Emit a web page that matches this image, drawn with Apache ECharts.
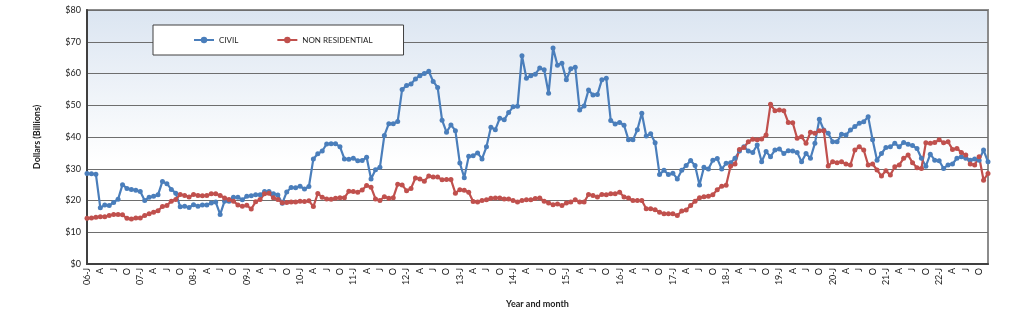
<!DOCTYPE html>
<html>
<head>
<meta charset="utf-8">
<script src="https://cdn.jsdelivr.net/npm/echarts@6/dist/echarts.min.js"></script>
<style>
html,body{margin:0;padding:0;background:#fff;}
#chart{width:1024px;height:310px;}
</style>
</head>
<body>
<div id="chart"></div>
<script>
// Years and month letters used to build category labels (Jan 2006 - Dec 2022)
const years = ['06','07','08','09','10','11','12','13','14','15','16','17','18','19','20','21','22'];
const monthLetters = ['J','F','M','A','M','J','J','A','S','O','N','D'];
const yTicks = [0,10,20,30,40,50,60,70,80];

const civil = [
28.5,28.4,28.3,17.7,18.6,18.4,19.4,20.4,25.0,23.8,23.5,23.2,
22.8,20.0,21.0,21.3,21.8,26.0,25.3,23.5,22.3,18.0,18.2,17.8,
18.7,18.2,18.6,18.6,19.2,19.5,15.6,19.8,19.8,21.0,21.0,20.2,
21.3,21.5,21.8,21.8,22.8,22.8,22.1,21.7,19.1,22.7,24.1,24.0,
24.5,23.6,24.4,33.1,34.7,35.6,37.8,37.9,37.9,36.9,33.1,33.0,
33.3,32.5,32.6,33.6,26.8,29.7,30.5,40.5,44.2,44.2,44.9,55.0,
56.2,56.7,58.3,59.3,60.0,60.7,57.5,55.6,45.3,41.5,43.8,42.0,
31.8,27.2,33.9,34.1,35.0,33.1,36.9,43.1,42.3,45.9,45.4,47.7,
49.5,49.7,65.6,58.5,59.3,59.8,61.7,61.2,53.8,68.0,62.6,63.2,
58.0,61.5,62.0,48.5,49.8,54.8,53.2,53.4,58.0,58.5,45.2,44.1,
44.6,43.7,39.1,39.1,42.3,47.5,40.3,41.0,38.2,28.2,29.5,28.2,
28.6,26.8,29.5,31.0,32.6,31.0,24.9,30.5,29.9,32.7,33.2,29.9,
31.7,31.9,33.3,35.6,36.9,35.6,35.1,37.5,32.2,35.4,33.8,35.9,
36.2,34.8,35.7,35.6,35.1,32.2,34.8,33.3,38.0,45.6,42.2,41.2,
38.5,38.5,40.9,40.6,42.2,43.3,44.3,44.8,46.4,39.1,32.7,34.8,
36.7,36.9,38.0,36.9,38.3,37.7,37.3,36.4,33.3,30.8,34.6,32.7,
32.5,30.1,31.2,31.5,33.3,33.8,33.3,32.7,33.1,32.7,35.9,32.2
];

const nonResidential = [
14.4,14.5,14.7,14.9,14.9,15.3,15.6,15.6,15.5,14.4,14.2,14.5,
14.5,15.3,15.8,16.3,16.8,18.1,18.4,19.8,20.3,21.9,21.6,21.1,
21.9,21.6,21.5,21.6,22.1,22.1,21.6,20.8,20.3,19.8,18.6,18.2,
18.5,17.3,19.6,20.3,22.1,22.3,20.9,20.3,19.3,19.4,19.5,19.5,
19.8,19.7,19.9,18.1,22.2,21.0,20.5,20.4,20.7,20.9,20.9,22.9,
22.8,22.6,23.3,24.7,24.2,20.5,20.0,21.2,20.7,20.9,25.1,24.9,
23.1,23.8,27.1,26.8,26.1,27.7,27.4,27.4,26.5,26.6,26.6,22.3,
23.4,23.2,22.6,19.7,19.5,20.0,20.2,20.7,20.8,20.8,20.5,20.5,
20.0,19.5,20.0,20.2,20.2,20.6,20.8,19.8,19.2,18.7,18.9,18.4,
19.2,19.5,20.2,19.5,19.5,21.9,21.6,21.1,21.9,21.8,22.1,22.1,
22.6,21.1,20.8,20.0,20.0,20.0,17.4,17.4,17.1,16.3,15.8,15.8,
15.8,15.3,16.7,17.0,18.4,19.8,20.9,21.2,21.3,21.8,23.4,24.5,
24.8,30.8,31.5,36.1,36.7,38.5,39.3,39.1,39.4,40.6,50.3,48.3,
48.5,48.3,44.6,44.5,39.6,40.1,38.0,41.5,41.2,42.0,42.0,30.9,
32.2,31.9,32.2,31.5,31.2,35.9,36.9,35.9,31.2,31.5,29.6,27.7,
29.4,28.0,30.6,31.2,33.3,34.3,31.9,30.3,30.1,38.2,38.0,38.3,
39.1,38.2,38.5,36.1,36.4,35.1,34.3,31.5,31.2,33.8,26.4,28.5
];

const categories = [];
years.forEach(y => monthLetters.forEach((m, i) => {
  categories.push(i === 0 ? y + '-' + m : m);
}));

const chart = echarts.init(document.getElementById('chart'));
const FONT = 'Lato';
chart.setOption({
  animation: false,
  backgroundColor: '#ffffff',
  textStyle: { fontFamily: FONT },
  grid: {
    left: 87, right: 36, top: 10, bottom: 46,
    outerBoundsMode: 'none',
    containLabel: false,
    show: true,
    borderColor: '#8c8c8c',
    borderWidth: 2,
    backgroundColor: new echarts.graphic.LinearGradient(0, 0, 0, 1, [
      { offset: 0, color: '#dbe5f1' },
      { offset: 0.6, color: '#ffffff' },
      { offset: 1, color: '#ffffff' }
    ])
  },
  legend: {
    left: 153, top: 25,
    padding: [11, 31, 11, 40],
    itemGap: 38,
    itemWidth: 20, itemHeight: 8,
    backgroundColor: '#ffffff',
    borderColor: '#404040',
    borderWidth: 1,
    borderRadius: 0,
    textStyle: { fontFamily: FONT, fontSize: 8, color: '#222' },
    data: ['CIVIL', 'NON RESIDENTIAL']
  },
  xAxis: {
    type: 'category',
    data: categories,
    boundaryGap: false,
    name: 'Year and month',
    nameLocation: 'middle',
    nameGap: 36,
    nameTextStyle: { fontFamily: FONT, fontSize: 9, fontWeight: 'bold', color: '#222' },
    axisLine: { lineStyle: { color: '#404040', width: 2 } },
    axisTick: { show: false },
    axisLabel: {
      interval: 2,
      rotate: 90,
      fontSize: 9,
      color: '#222',
      fontFamily: FONT,
      margin: 4
    },
    splitLine: { show: false }
  },
  yAxis: {
    type: 'value',
    min: yTicks[0], max: yTicks[yTicks.length - 1], interval: 10,
    name: 'Dollars (Billions)',
    nameLocation: 'middle',
    nameGap: 45,
    nameTextStyle: { fontFamily: FONT, fontSize: 9, fontWeight: 'bold', color: '#222' },
    axisLine: { show: true, lineStyle: { color: '#404040', width: 2 } },
    axisTick: { show: false },
    axisLabel: {
      formatter: v => '$' + v,
      fontSize: 9, color: '#222', fontFamily: FONT, margin: 6
    },
    splitLine: { show: true, lineStyle: { color: '#6e6e6e', width: 1.2 } }
  },
  series: [
    {
      name: 'CIVIL', type: 'line', data: civil,
      symbol: 'circle', symbolSize: 5, showAllSymbol: true,
      lineStyle: { color: '#4a7ebb', width: 2.2 },
      itemStyle: { color: '#4a7ebb' }
    },
    {
      name: 'NON RESIDENTIAL', type: 'line', data: nonResidential,
      symbol: 'circle', symbolSize: 5, showAllSymbol: true,
      lineStyle: { color: '#c0504d', width: 2.2 },
      itemStyle: { color: '#c0504d' }
    }
  ]
});
</script>
</body>
</html>
